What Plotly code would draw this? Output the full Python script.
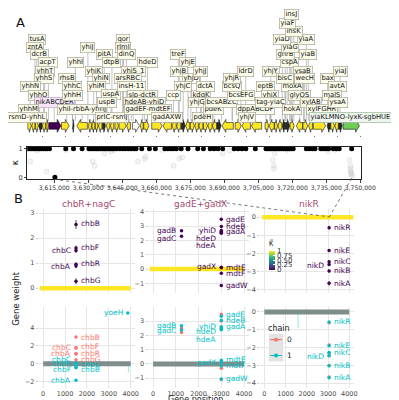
import plotly.graph_objects as go

W, H = 399, 400
def fx(p): return p / W
def fy(p): return 1 - p / H

FONT = "DejaVu Sans"
YEL = "#fde725"; PUR = "#440154"; GRN = "#6ece58"
RED = "#F8766D"; CYN = "#00BFC4"; TITLE_COL = "#a6496f"

# ---------------- Panel A data ----------------
# κ per transcription unit, genomic position in kb
k_one_kb = [3603.5,3604.4,3605.2,3606.1,3606.9,3607.8,3608.6,3609.5,3610.3,3611.2,3612.0,3612.9,
            3620.1,3623.5,3627.3,
            3630.3,3631.1,3632.0,3632.8,3633.7,3634.5,3635.4,3636.2,3637.1,3637.9,3638.8,3639.6,3640.5,3641.3,
            3642.6,3643.9,3645.1,3646.4,3647.7,3649.0,3650.2,3651.1,
            3653.6,3657.0,3659.6,3663.8,3665.1,3666.4,3667.6,3668.9,
            3671.0,3674.0,3678.3,3680.8,3683.8,3685.5,3687.2,3689.3,
            3694.4,3696.1,3697.8,3699.5,3703.7,
            3708.4,3709.3,3710.1,3711.0,3711.9,3712.7,3713.6,3714.4,3715.3,3716.1,3717.0,3717.8,3718.7,3719.5,3720.4,
            3726.2,3727.5,3728.8,3730.0,3732.6,3733.9,3735.1,3736.0,3738.1,3739.4,3740.7,3746.2]
k_one_val = [1.0] * len(k_one_kb)
k_zero_kb = [3615.3]
k_zero_val = [0.0]
k_grey_kb = [3604.4,3611.6,3632.0,3632.8,3637.1,3640.0,3651.9,3654.9,3655.3,3667.6,3670.2,3671.5,
             3689.3,3711.4,3711.9,3711.9,3712.3,3736.0,3745.3,3745.7,3745.7,3745.7,3745.9,3746.2,3746.2,
             3607.4,3620.1,3641.3,3662.5,3692.3,3717.8,3739.0]
k_grey_val = [0.55,0.20,0.55,0.40,0.83,0.90,0.55,0.65,0.72,0.40,0.65,0.70,
              0.83,0.60,0.40,0.30,0.83,0.90,0.60,0.40,0.30,0.22,0.15,0.10,0.02,
              0.93,0.95,0.95,0.95,0.93,0.95,0.95]

# genes on the track (kb), strand and colour class
gene_start = [3603.3,3605.1,3606.7,3608.2,3609.8,3611.4,3612.6,3618.2,3623.1,3625.0,3630.0,3631.6,3633.1,3634.5,
              3636.3,3638.0,3639.8,3641.8,3643.6,3647.0,3649.5,3653.0,3654.5,3658.0,3663.0,3667.0,3669.0,3671.0,
              3673.0,3675.0,3677.0,3678.8,3680.8,3682.8,3684.8,3686.8,3689.0,3694.8,3697.8,3702.0,3708.0,3709.8,
              3712.2,3713.7,3715.6,3717.1,3719.0,3721.8,3724.7,3727.2,3729.3,3735.4,3737.0,3738.8,3740.5,3742.4]
gene_end = [3604.9,3606.5,3608.0,3609.6,3611.2,3612.4,3618.0,3621.6,3623.7,3629.6,3631.4,3632.9,3634.3,3636.0,
            3637.6,3639.5,3641.3,3643.3,3646.8,3648.6,3652.6,3654.3,3656.8,3662.6,3666.7,3668.8,3670.8,3672.8,
            3674.8,3676.8,3678.6,3680.6,3682.6,3684.6,3686.6,3688.6,3694.0,3697.5,3701.6,3706.5,3709.6,3712.0,
            3713.5,3715.4,3716.9,3718.8,3720.8,3724.5,3726.8,3728.9,3734.7,3736.8,3738.6,3740.3,3742.0,3749.6]
gene_strand = "+-+--++++---+-+--++-+-++---+-+--+--+-+--+-+--++-+-+-+-++"
gene_class = "YYYDYYPYDYYYYYDYYYYYWYYYYYYDYYYYYYYDYYYYYYYYDDYYYYYDYYDG"

track_labels = ["tusA","zntA","dcrB","acpT","yhhT","yhhS","yhhN","yhhQ","nikABCDER","yhhM","rsmD-yhhL",
                "rhsB","yhhI","yhhC","yhhH","yhiI-rbbA-yhhJ",
                "yhiJ","yhiK","yhiN","yhiM","pitA","dtpB","uspA","uspB","prlC-rsmJ",
                "qor","rlmI","dinQ","hdeD","yhiS_1","arsRBC","insH-11","slp-dctR","hdeAB-yhiD","gadEF-mdtEF","gadAXW",
                "treF","yhjE","yhjB","yhjD","yhjC","ccp","kdgK","yhjG","pdeH","dctA","yhjJ",
                "pdeK","bcsABZC","bcsEFG","bcsQ","yhjR","ldrD","dppABCDF","yhjV",
                "yhjY","eptB","yhjX","tag-yiaC","hokA","moxA","glyQS","bisC","cspA","ysaB","wecH",
                "ghrB","yiaB","yiaG","yiaD","yiaA","insK","yiaF","insJ","xylAB","xylFGHR","yiaKLMNO-lyxK-sgbHUE",
                "bax","yiaJ","avtA","malS","ysaA"]
# label placement (layout, pixels)
track_lab_xy = [(30,30),(28,38),(33,45),(42,53),(38,62),(37,69),(23,77),(32,86),(48,93),(21,101),(20,109),
                (61,69),(70,53),(67,77),(67,86),(77,101),
                (83,38),(89,62),(97,69),(92,77),(100,45),(108,53),(107,85),(103,93),(108,109),
                (119,30),(120,38),(123,45),(145,53),(130,62),(125,69),(128,77),(140,86),(142,93),(145,101),(165,109),
                (177,45),(187,53),(178,62),(190,69),(182,77),(172,86),(201,86),(196,93),(202,109),(205,77),(200,62),
                (214,101),(222,93),(242,86),(233,77),(233,69),(247,62),(257,101),(248,109),
                (273,62),(268,77),(272,86),(273,93),(295,101),(295,77),(303,86),(288,69),(293,53),(307,62),(308,69),
                (288,45),(312,45),(293,38),(285,30),(310,30),(297,22),(290,14),(295,5),(315,93),(326,101),(356,109),
                (332,69),(345,62),(342,77),(337,86),(343,93)]

# ---------------- Panel B data ----------------
# top row (combined, coloured by kappa)
t1_genes = ["chbB","chbC","chbF","chbA","chbR","chbG"]
t1_pos = [1500,1500,1500,1500,1500,1500]
t1_w = [2.54,1.50,1.60,0.88,0.95,0.27]
t1_err = [0.18,0.10,0.10,0.08,0.08,0.12]
t1_kappa = [0,0,0,0,0,0]

t2_genes = ["gadB","gadC","yhiD","hdeD","hdeA","gadE","hdeB","gadA","gadX","mdtE","mdtF","gadW"]
t2_pos = [1250,1250,3000,3000,3000,3000,3000,3000,3000,3000,3000,3000]
t2_w = [2.67,2.30,2.70,2.62,2.50,3.48,2.97,2.58,0.08,0.12,-0.30,-1.16]
t2_err = [0.06,0.06,0.06,0.06,0.06,0.08,0.06,0.1,0.06,0.06,0.06,0.1]
t2_kappa = [0]*12

t3_genes = ["nikR","nikE","nikC","nikD","nikB","nikA"]
t3_pos = [3050,3050,3050,3050,3050,3050]
t3_w = [-0.58,-1.84,-2.45,-2.60,-2.96,-3.64]
t3_err = [0.1,0.08,0.08,0.08,0.08,0.12]
t3_kappa = [0]*6

# all-gene baseline lines (weight 0 everywhere else)
top_line_x = [[-150,4000],[-150,4000],[-100,4200]]
top_line_y = [[0,0],[0,0],[0,0]]

# bottom row, per chain
b1_c0_genes = ["chbB","chbC","chbF","chbA","chbR","chbG"]
b1_c0_pos = [1500]*6
b1_c0_w = [3.0,1.75,1.80,1.10,1.15,0.45]
b1_c1_genes = ["chbC","chbR","chbG","chbF","chbB","chbA","yoeH"]
b1_c1_pos = [1500,1500,1500,1500,1500,1500,3870]
b1_c1_w = [0.10,0.00,-0.15,-0.40,-0.45,-1.85,5.7]

b2_c0_genes = ["gadB","gadC","gadE","hdeB","gadA","gadX","mdtE","mdtF","gadW"]
b2_c0_pos = [1250,1250,3000,3000,3000,3000,3000,3000,3000]
b2_c0_w = [2.50,2.20,3.49,3.00,2.50,0.05,0.10,-0.30,-1.10]
b2_c1_genes = ["gadB","gadC","yhiD","hdeD","hdeA","gadE","hdeB","gadA","gadX","mdtE","mdtF","gadW"]
b2_c1_pos = [1250,1250,3000,3000,3000,3000,3000,3000,3000,3000,3000,3000]
b2_c1_w = [2.67,2.37,2.55,2.45,2.40,3.35,3.07,2.60,0.10,0.25,-0.13,-1.05]

b3_c0_genes = ["nikR","nikE","nikC","nikD","nikB","nikA"]
b3_c0_pos = [3050]*6
b3_c0_w = [-0.60,-1.85,-2.30,-2.45,-3.00,-3.65]
b3_c1_genes = ["nikR","nikE","nikC","nikD","nikB","nikA"]
b3_c1_pos = [3050]*6
b3_c1_w = [-0.56,-1.90,-2.28,-2.46,-3.02,-3.70]

bot_line_x = [0, 4000]
bot_line_y = [0, 0]
spike_c1_x = [[3900,3900],None,[1590,1590]]
spike_c1_y = [[0,-1.0],None,[0,-0.9]]

chain_names = ["0", "1"]
chain_colors = [RED, CYN]

# label layout (side, label y)
t1_side = "rlrlrr"; t1_ly = [2.6,1.5,1.62,0.88,0.98,0.3]
t2_side = "lllllrrrlrrr"; t2_ly = [2.68,2.16,2.68,2.16,1.63,3.48,2.98,2.6,0.17,0.12,-0.3,-1.16]
t3_side = "rrrlrr"; t3_ly = [-0.58,-1.84,-2.42,-2.68,-2.96,-3.64]
b1_c0_side = "rlrlrr"; b1_c0_ly = [3.0,1.8,1.93,1.18,1.18,0.51]
b1_c1_side = "llrlrll"; b1_c1_ly = [0.51,-0.02,-0.1,-0.67,-0.67,-1.85,5.7]
b2_c1_side = "lllllrrrlrrr"; b2_c1_ly = [2.67,2.37,2.6,2.26,1.72,3.49,3.07,2.65,0.1,0.33,-0.13,-1.05]
b3_c1_side = "rrrlrr"; b3_c1_ly = [-0.56,-1.9,-2.28,-2.5,-3.02,-3.7]

# ---------------- layout geometry (pixels) ----------------
A_X = (20, 367)
K_Y = (138, 171)
TRACK_Y = (108, 126)
COLS = [(32,132),(146,250),(262,359)]
TOP_Y = (201, 286)
BOT_Y = (300, 382)
LEG = (268, 300, 315, 360)   # x0, x1, y0, y1 of chain legend box
top_ranges = [(-0.2,3.16),(-1.69,4.2),(-4.18,0.45)]
bot_ranges = [(-2.75,6.37),(-1.7,3.99),(-4.28,0.28)]
top_ticks = [[0,1,2,3],[-1,0,1,2,3,4],[-4,-3,-2,-1,0]]
bot_ticks = [[-2,0,2,4],[-1,0,1,2,3],[-4,-3,-2,-1,0]]
XRANGE = [-200, 4200]

fig = go.Figure()

# ---- K panel ----
fig.add_trace(go.Scatter(x=[v*1000 for v in k_grey_kb], y=k_grey_val, mode="markers",
                         marker=dict(size=5, color="rgba(150,150,150,0.10)",
                                     line=dict(width=0.6, color="rgba(120,120,120,0.22)")),
                         xaxis="x", yaxis="y", showlegend=False, hoverinfo="skip"))
fig.add_trace(go.Scatter(x=[v*1000 for v in k_one_kb + k_zero_kb], y=k_one_val + k_zero_val, mode="markers",
                         marker=dict(size=5, color="black"),
                         xaxis="x", yaxis="y", showlegend=False, hoverinfo="skip"))

# ---- gene track ----
cls_color = {"Y": YEL, "P": PUR, "G": GRN, "W": "#ffffff", "D": "#2a2a2a"}
polys = {}
for s, e, st, c in zip(gene_start, gene_end, gene_strand, gene_class):
    s *= 1000; e *= 1000
    hl = min(0.55 * (e - s), 1700)
    b, h = 0.38, 0.72
    if st == "+":
        xs = [s, e-hl, e-hl, e, e-hl, e-hl, s, s]
    else:
        xs = [e, s+hl, s+hl, s, s+hl, s+hl, e, e]
    ys = [-b, -b, -h, 0, h, b, b, -b]
    px_, py_ = polys.setdefault(c, ([], []))
    px_ += xs + [None]; py_ += ys + [None]
for c, (xs, ys) in polys.items():
    fig.add_trace(go.Scatter(x=xs, y=ys, mode="lines", fill="toself", fillcolor=cls_color[c],
                             line=dict(color="#111111", width=0.6), xaxis="x2", yaxis="y2",
                             showlegend=False, hoverinfo="skip"))

# ---- panel B traces ----
tops = [(t1_pos,t1_w,t1_err,t1_kappa),(t2_pos,t2_w,t2_err,t2_kappa),(t3_pos,t3_w,t3_err,t3_kappa)]
for i, (p, w, er, kap) in enumerate(tops):
    xa, ya = f"x{3+i}", f"y{3+i}"
    fig.add_trace(go.Scatter(x=top_line_x[i], y=top_line_y[i], mode="lines",
                             line=dict(color=YEL, width=4.5), xaxis=xa, yaxis=ya,
                             showlegend=False, hoverinfo="skip"))
    mk = dict(size=3.5, color=kap, colorscale="Viridis", cmin=0, cmax=1)
    if i == 0:
        mk.update(showscale=True, colorbar=dict(
            x=fx(271), xanchor="left", y=fy(229), yanchor="top", len=33, lenmode="pixels",
            thickness=6, outlinewidth=0, xpad=0, ypad=0,
            tickvals=[0,0.25,0.5,0.75,1], ticktext=["0","0.25","0.50","0.75","1"],
            ticks="inside", ticklen=2, tickcolor="white",
            tickfont=dict(size=7, color="#333", family=FONT),
            title=dict(text="κ̃", side="top", font=dict(size=8, color="#333", family=FONT))))
    fig.add_trace(go.Scatter(x=p, y=w, mode="markers", marker=mk,
                             error_y=dict(type="data", array=er, color=PUR, thickness=0.8, width=0),
                             xaxis=xa, yaxis=ya, showlegend=False, hoverinfo="skip"))

bots = [(b1_c0_pos,b1_c0_w,b1_c1_pos,b1_c1_w),(b2_c0_pos,b2_c0_w,b2_c1_pos,b2_c1_w),
        (b3_c0_pos,b3_c0_w,b3_c1_pos,b3_c1_w)]
for i, (p0, w0, p1, w1) in enumerate(bots):
    xa, ya = f"x{6+i}", f"y{6+i}"
    fig.add_trace(go.Scatter(x=bot_line_x, y=bot_line_y, mode="lines",
                             line=dict(color="#7f8d8c", width=5), xaxis=xa, yaxis=ya,
                             showlegend=False, hoverinfo="skip"))
    if spike_c1_x[i]:
        fig.add_trace(go.Scatter(x=spike_c1_x[i], y=spike_c1_y[i], mode="lines",
                                 line=dict(color="rgba(0,191,196,0.35)", width=1.2), xaxis=xa, yaxis=ya,
                                 showlegend=False, hoverinfo="skip"))
    fig.add_trace(go.Scatter(x=p0, y=w0, mode="markers", marker=dict(size=3.5, color=RED),
                             xaxis=xa, yaxis=ya, showlegend=False, hoverinfo="skip"))
    fig.add_trace(go.Scatter(x=p1, y=w1, mode="markers", marker=dict(size=3.5, color=CYN),
                             xaxis=xa, yaxis=ya, showlegend=False, hoverinfo="skip"))

# chain legend drawn on an overlay axis measured in pixels
for k, (nm, col) in enumerate(zip(chain_names, chain_colors)):
    yk = 333 + 16 * k
    fig.add_trace(go.Scatter(x=[272.5, 278.5, 284.5], y=[yk, yk, yk], mode="lines",
                             line=dict(color=col, width=1.2), xaxis="x9", yaxis="y9",
                             showlegend=False, hoverinfo="skip"))
    fig.add_trace(go.Scatter(x=[278.5], y=[yk], mode="markers", marker=dict(size=4, color=col),
                             xaxis="x9", yaxis="y9", showlegend=False, hoverinfo="skip"))

# ---- axes ----
ax = {}
kt = list(range(3615000, 3750001, 15000))
ax["xaxis"] = dict(domain=[fx(A_X[0]), fx(A_X[1])], range=[3603100, 3750400], anchor="y",
                   tickvals=kt, ticktext=[f"{v:,}" for v in kt], ticks="outside", ticklen=2.5,
                   tickangle=0, tickfont=dict(size=6.1, color="#333"), showline=True, mirror=True,
                   linecolor="#222", linewidth=0.8, showgrid=False, zeroline=False)
ax["yaxis"] = dict(domain=[fy(K_Y[1]), fy(K_Y[0])], range=[-0.07, 1.07], anchor="x",
                   tickvals=[0, 1], ticks="outside", ticklen=2.5, tickfont=dict(size=6.5, color="#333"),
                   showline=True, mirror=True, linecolor="#222", linewidth=0.8,
                   showgrid=False, zeroline=False)
ax["xaxis2"] = dict(domain=[fx(A_X[0]), fx(A_X[1])], range=[3603100, 3750400], anchor="y2",
                    dtick=10000, tick0=3600000, ticks="outside", ticklen=1.5, tickcolor="#777",
                    showticklabels=False, showgrid=False, zeroline=False, showline=False)
ax["yaxis2"] = dict(domain=[fy(TRACK_Y[1]), fy(TRACK_Y[0])], range=[-1, 1], anchor="x2", visible=False)

for r, (rowy, ranges, ticks) in enumerate([(TOP_Y, top_ranges, top_ticks), (BOT_Y, bot_ranges, bot_ticks)]):
    for c in range(3):
        n = 3 + 3*r + c
        ax[f"xaxis{n}"] = dict(domain=[fx(COLS[c][0]), fx(COLS[c][1])], range=XRANGE, anchor=f"y{n}",
                               tickvals=[0,1000,2000,3000,4000], showticklabels=(r == 1),
                               tickfont=dict(size=6.5, color="#4d4d4d"), ticks="",
                               showgrid=True, gridcolor="#e6e6e6", gridwidth=0.8, zeroline=False, showline=False)
        ax[f"yaxis{n}"] = dict(domain=[fy(rowy[1]), fy(rowy[0])], range=list(ranges[c]), anchor=f"x{n}",
                               tickvals=ticks[c], ticktext=[str(v).replace("-", "−") for v in ticks[c]],
                               tickfont=dict(size=6.5, color="#4d4d4d"), ticks="outside", ticklen=2,
                               tickcolor="#cccccc",
                               showgrid=True, gridcolor="#e6e6e6", gridwidth=0.8, zeroline=False, showline=False)

ax["xaxis9"] = dict(domain=[fx(LEG[0]), fx(LEG[1])], range=[LEG[0], LEG[1]], anchor="y9", visible=False)
ax["yaxis9"] = dict(domain=[fy(LEG[3]), fy(LEG[2])], range=[LEG[3], LEG[2]], anchor="x9", visible=False)

fig.update_layout(**ax)

# ---- annotations ----
ann = []
shapes = []
def pa(text, x, y, size, color="#111", **kw):
    d = dict(text=text, x=fx(x), y=fy(y), xref="paper", yref="paper", showarrow=False,
             font=dict(size=size, color=color, family=FONT), xanchor="center", yanchor="middle")
    d.update(kw)
    ann.append(d)

pa("A", 13, 13, 13)
pa("B", 11, 190, 13)

# track labels + leader lines
for t, (x, y) in zip(track_labels, track_lab_xy):
    shapes.append(dict(type="line", xref="paper", yref="paper", x0=fx(x), x1=fx(x), y0=fy(y + 4), y1=fy(112),
                       line=dict(color="#9a9a9a", width=0.6), layer="above"))
for t, (x, y) in zip(track_labels, track_lab_xy):
    bg, bc = "#fbfbe9", "#9a9a8a"
    if t == "nikABCDER":
        bg, bc = "#f4e6f7", "#b89cc8"
    if t.startswith("yiaKLMNO"):
        bg, bc = "#eef6ee", "#8fb08f"
    pa(t, x, y, 6.8, "#111", bgcolor=bg, bordercolor=bc, borderwidth=0.6, borderpad=0.8)

pa("κ", 8, 154, 9, "#111", textangle=-90)

# facet titles
for c, t in enumerate(["chbR+nagC", "gadE+gadX", "nikR"]):
    pa(t, (COLS[c][0] + COLS[c][1]) / 2 + 2, 196, 9, TITLE_COL)

pa("Gene position", 195, 393.5, 8, "#222")
pa("Gene weight", 8, 292, 8.5, "#222", textangle=-90)

# chain legend texts
pa("chain", 282, 322, 8, "#222")
for k, nm in enumerate(chain_names):
    pa(nm, 288, 333 + 16 * k, 7.5, "#222", xanchor="left")

def lab(genes, pos, ly, side, color, n):
    for g, x, y, s in zip(genes, pos, ly, side):
        ann.append(dict(text=g, x=x, y=y, xref=f"x{n}", yref=f"y{n}", showarrow=False,
                        xanchor="left" if s == "r" else "right", yanchor="middle",
                        xshift=3 if s == "r" else -3,
                        font=dict(size=7.5, color=color, family=FONT)))

lab(t1_genes, t1_pos, t1_ly, t1_side, PUR, 3)
lab(t2_genes, t2_pos, t2_ly, t2_side, PUR, 4)
lab(t3_genes, t3_pos, t3_ly, t3_side, PUR, 5)
lab(b1_c0_genes, b1_c0_pos, b1_c0_ly, b1_c0_side, RED, 6)
lab(b1_c1_genes, b1_c1_pos, b1_c1_ly, b1_c1_side, CYN, 6)
lab(b2_c1_genes, b2_c1_pos, b2_c1_ly, b2_c1_side, CYN, 7)
lab(b3_c1_genes, b3_c1_pos, b3_c1_ly, b3_c1_side, CYN, 8)

# connector dotted lines from panel A to nikR facet
for (x0, y0) in [(48, 171), (357, 170)]:
    shapes.append(dict(type="line", xref="paper", yref="paper", x0=fx(x0), y0=fy(y0), x1=fx(334), y1=fy(209),
                       line=dict(color="#555", width=0.8, dash="dot"), layer="above"))

# legend key background
shapes.append(dict(type="rect", xref="paper", yref="paper", x0=fx(271), x1=fx(286), y0=fy(355), y1=fy(327),
                   fillcolor="#e3e3e3", line=dict(width=0), layer="below"))

fig.update_layout(
    width=W, height=H, margin=dict(l=0, r=0, t=0, b=0),
    paper_bgcolor="white", plot_bgcolor="rgba(0,0,0,0)",
    font=dict(family=FONT, size=8, color="#222"),
    annotations=ann, shapes=shapes,
    showlegend=False,
)

fig.write_html("out.html")
